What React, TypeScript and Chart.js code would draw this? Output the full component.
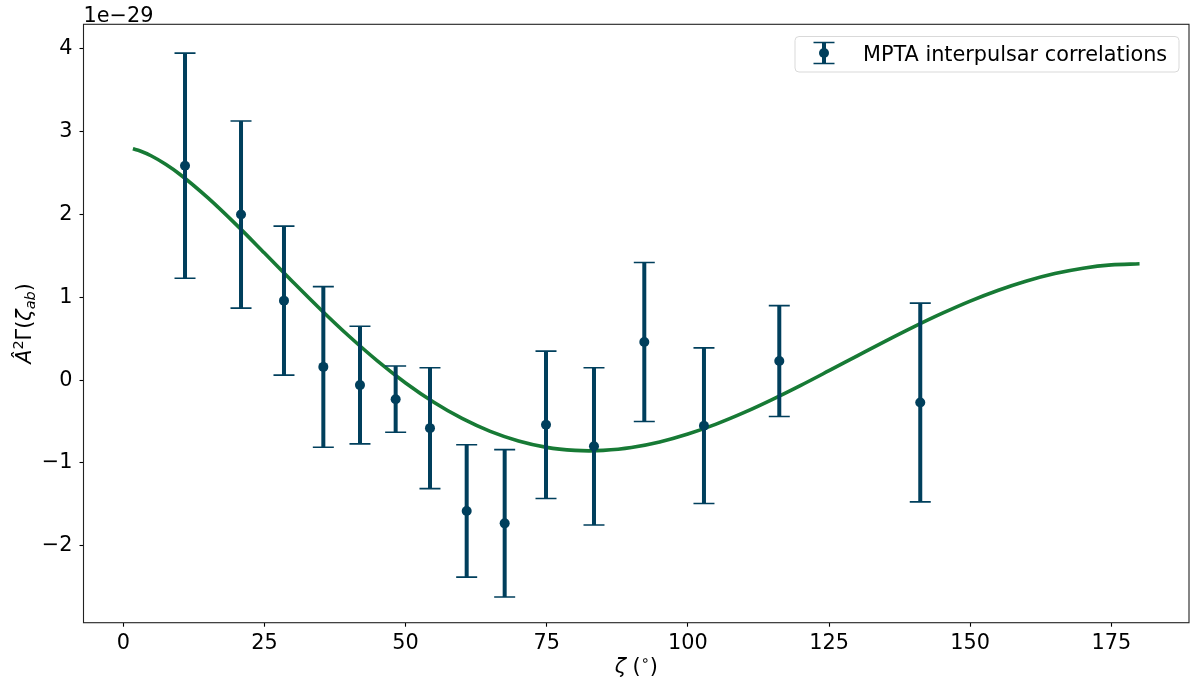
import React, { useEffect, useRef } from "react";
import { Chart, registerables } from "chart.js";

Chart.register(...registerables);

// Correlation measurements (units of 1e-29)
const pointAngles = [10.93, 20.85, 28.46, 35.43, 41.92, 48.24, 54.32, 60.82, 67.55, 74.87, 83.37, 92.28, 102.85, 116.19, 141.16];
const pointValues = [2.59, 2.0, 0.96, 0.16, -0.06, -0.23, -0.58, -1.58, -1.73, -0.54, -0.8, 0.46, -0.55, 0.23, -0.27];
const pointErrors = [1.36, 1.13, 0.9, 0.97, 0.71, 0.4, 0.73, 0.8, 0.89, 0.89, 0.95, 0.96, 0.94, 0.67, 1.2];

// Model curve (units of 1e-29)
const curveAngles = [1.7, 3, 5, 7.5, 10, 15, 20, 25, 30, 35, 40, 45, 50, 55, 60, 65, 70, 75, 80, 82.5, 85, 90, 95, 100, 105, 110, 115, 120, 125, 130, 135, 140, 145, 150, 155, 160, 165, 170, 175, 180];
const curveValues = [2.794, 2.767, 2.707, 2.607, 2.487, 2.201, 1.878, 1.535, 1.189, 0.851, 0.53, 0.233, -0.034, -0.267, -0.463, -0.619, -0.735, -0.812, -0.849, -0.854, -0.849, -0.814, -0.747, -0.651, -0.531, -0.39, -0.232, -0.063, 0.114, 0.293, 0.471, 0.643, 0.805, 0.954, 1.085, 1.197, 1.287, 1.352, 1.392, 1.405];

const xTicks = [0, 25, 50, 75, 100, 125, 150, 175];
const yTicks = [-2, -1, 0, 1, 2, 3, 4];

const legendLabel = "MPTA interpulsar correlations";
const offsetLabel = "1e\u221229";

const NAVY = "#003f5c";
const GREEN = "#177a35";
const FONT = "'DejaVu Sans', 'Liberation Sans', sans-serif";
const FS = 20.8;
const FS_SMALL = 14.5;

const errorBarPlugin = {
  id: "errorBars",
  afterDatasetDraw(chart: any, args: any) {
    if (args.index !== 1) return;
    const ctx = chart.ctx;
    const xs = chart.scales.x;
    const ys = chart.scales.y;
    ctx.save();
    ctx.strokeStyle = NAVY;
    for (let i = 0; i < pointAngles.length; i++) {
      const px = xs.getPixelForValue(pointAngles[i]);
      const top = ys.getPixelForValue(pointValues[i] + pointErrors[i]);
      const bot = ys.getPixelForValue(pointValues[i] - pointErrors[i]);
      ctx.lineWidth = 4;
      ctx.beginPath();
      ctx.moveTo(px, top);
      ctx.lineTo(px, bot);
      ctx.stroke();
      ctx.lineWidth = 1.6;
      ctx.beginPath();
      ctx.moveTo(px - 10.5, top);
      ctx.lineTo(px + 10.5, top);
      ctx.moveTo(px - 10.5, bot);
      ctx.lineTo(px + 10.5, bot);
      ctx.stroke();
    }
    ctx.restore();
  },
};

const decorPlugin = {
  id: "decor",
  afterDraw(chart: any) {
    const ctx = chart.ctx;
    const a = chart.chartArea;
    ctx.save();
    // frame
    ctx.strokeStyle = "#222";
    ctx.lineWidth = 1.1;
    ctx.strokeRect(a.left, a.top, a.right - a.left, a.bottom - a.top);

    // offset text
    ctx.fillStyle = "#000";
    ctx.font = `${FS}px ${FONT}`;
    ctx.textAlign = "left";
    ctx.textBaseline = "alphabetic";
    ctx.fillText(offsetLabel, a.left, 21.5);

    // legend
    const lx = 795, ly = 36.5, lw = 384, lh = 35.5, r = 4;
    ctx.beginPath();
    ctx.moveTo(lx + r, ly);
    ctx.lineTo(lx + lw - r, ly);
    ctx.quadraticCurveTo(lx + lw, ly, lx + lw, ly + r);
    ctx.lineTo(lx + lw, ly + lh - r);
    ctx.quadraticCurveTo(lx + lw, ly + lh, lx + lw - r, ly + lh);
    ctx.lineTo(lx + r, ly + lh);
    ctx.quadraticCurveTo(lx, ly + lh, lx, ly + lh - r);
    ctx.lineTo(lx, ly + r);
    ctx.quadraticCurveTo(lx, ly, lx + r, ly);
    ctx.closePath();
    ctx.fillStyle = "rgba(255,255,255,0.8)";
    ctx.fill();
    ctx.strokeStyle = "#d9d9d9";
    ctx.lineWidth = 1;
    ctx.stroke();

    const ix = 824, iy = 53;
    ctx.strokeStyle = NAVY;
    ctx.lineWidth = 4;
    ctx.beginPath();
    ctx.moveTo(ix, iy - 10.5);
    ctx.lineTo(ix, iy + 10.5);
    ctx.stroke();
    ctx.lineWidth = 1.6;
    ctx.beginPath();
    ctx.moveTo(ix - 10.5, iy - 10.5);
    ctx.lineTo(ix + 10.5, iy - 10.5);
    ctx.moveTo(ix - 10.5, iy + 10.5);
    ctx.lineTo(ix + 10.5, iy + 10.5);
    ctx.stroke();
    ctx.fillStyle = NAVY;
    ctx.beginPath();
    ctx.arc(ix, iy, 5, 0, Math.PI * 2);
    ctx.fill();

    ctx.fillStyle = "#000";
    ctx.font = `${FS}px ${FONT}`;
    ctx.fillText(legendLabel, 863, 61);

    // x axis label: ζ (°)
    const partsX: [string, string, number][] = [
      ["\u03b6", `italic ${FS}px ${FONT}`, 0],
      [" (", `${FS}px ${FONT}`, 0],
      ["\u2218", `${FS_SMALL}px ${FONT}`, -8],
      [")", `${FS}px ${FONT}`, 0],
    ];
    let wX = 0;
    for (const p of partsX) { ctx.font = p[1]; wX += ctx.measureText(p[0]).width; }
    let cx = (a.left + a.right) / 2 - wX / 2;
    const by = 673;
    for (const p of partsX) {
      ctx.font = p[1];
      ctx.fillText(p[0], cx, by + p[2]);
      cx += ctx.measureText(p[0]).width;
    }

    // y axis label: Â²Γ(ζ_ab)
    const partsY: [string, string, number][] = [
      ["\u00c2", `italic ${FS}px ${FONT}`, 0],
      ["2", `${FS_SMALL}px ${FONT}`, -8],
      ["\u0393", `${FS}px ${FONT}`, 0],
      ["(", `${FS}px ${FONT}`, 0],
      ["\u03b6", `italic ${FS}px ${FONT}`, 0],
      ["ab", `italic ${FS_SMALL}px ${FONT}`, 4],
      [")", `${FS}px ${FONT}`, 0],
    ];
    let wY = 0;
    for (const p of partsY) { ctx.font = p[1]; wY += ctx.measureText(p[0]).width; }
    ctx.translate(31, (a.top + a.bottom) / 2 + wY / 2);
    ctx.rotate(-Math.PI / 2);
    let tx = 0;
    for (const p of partsY) {
      ctx.font = p[1];
      ctx.fillText(p[0], tx, p[2]);
      tx += ctx.measureText(p[0]).width;
    }
    ctx.restore();
  },
};

function zeroPad(s: any) {
  s.paddingLeft = 0;
  s.paddingRight = 0;
  s.paddingTop = 0;
  s.paddingBottom = 0;
}

export default function App() {
  const ref = useRef<HTMLCanvasElement | null>(null);

  useEffect(() => {
    if (!ref.current) return;
    const chart = new Chart(ref.current, {
      type: "scatter",
      data: {
        datasets: [
          {
            type: "scatter",
            label: legendLabel,
            data: pointAngles.map((x, i) => ({ x, y: pointValues[i] })),
            pointRadius: 5,
            pointHoverRadius: 5,
            pointBackgroundColor: NAVY,
            pointBorderWidth: 0,
            backgroundColor: NAVY,
          },
          {
            type: "line",
            label: "model",
            data: curveAngles.map((x, i) => ({ x, y: curveValues[i] })),
            borderColor: GREEN,
            borderWidth: 3.6,
            pointRadius: 0,
            pointHoverRadius: 0,
            fill: false,
            cubicInterpolationMode: "monotone",
            borderCapStyle: "butt",
          },
        ],
      } as any,
      options: {
        responsive: false,
        animation: false,
        devicePixelRatio: 1,
        layout: { autoPadding: false, padding: { left: 0, right: 1, top: 24.3, bottom: 0 } },
        plugins: {
          legend: { display: false },
          tooltip: { enabled: false },
        },
        scales: {
          x: {
            type: "linear",
            min: -7.05,
            max: 188.76,
            afterFit: (s: any) => { s.height = 60.3; zeroPad(s); },
            afterBuildTicks: (s: any) => { s.ticks = xTicks.map((v) => ({ value: v })); },
            grid: { display: true, drawOnChartArea: false, drawTicks: true, tickLength: 4, tickColor: "#000", tickWidth: 1.1 },
            border: { display: false },
            ticks: {
              color: "#000",
              font: { family: FONT, size: FS },
              padding: 4,
              autoSkip: false,
              maxRotation: 0,
              callback: (v: any) => String(v),
            },
          },
          y: {
            type: "linear",
            min: -2.93,
            max: 4.298,
            afterFit: (s: any) => { s.width = 83.5; zeroPad(s); },
            afterBuildTicks: (s: any) => { s.ticks = yTicks.map((v) => ({ value: v })); },
            grid: { display: true, drawOnChartArea: false, drawTicks: true, tickLength: 4, tickColor: "#000", tickWidth: 1.1 },
            border: { display: false },
            ticks: {
              color: "#000",
              font: { family: FONT, size: FS },
              padding: 7,
              autoSkip: false,
              callback: (v: any) => (v < 0 ? "\u2212" + Math.abs(v) : String(v)),
            },
          },
        },
      } as any,
      plugins: [errorBarPlugin, decorPlugin],
    });
    return () => chart.destroy();
  }, []);

  return (
    <div style={{ position: "fixed", left: 0, top: 0, width: 1190, height: 683, background: "#fff" }}>
      <canvas ref={ref} width={1190} height={683} style={{ display: "block", width: 1190, height: 683 }} />
    </div>
  );
}
